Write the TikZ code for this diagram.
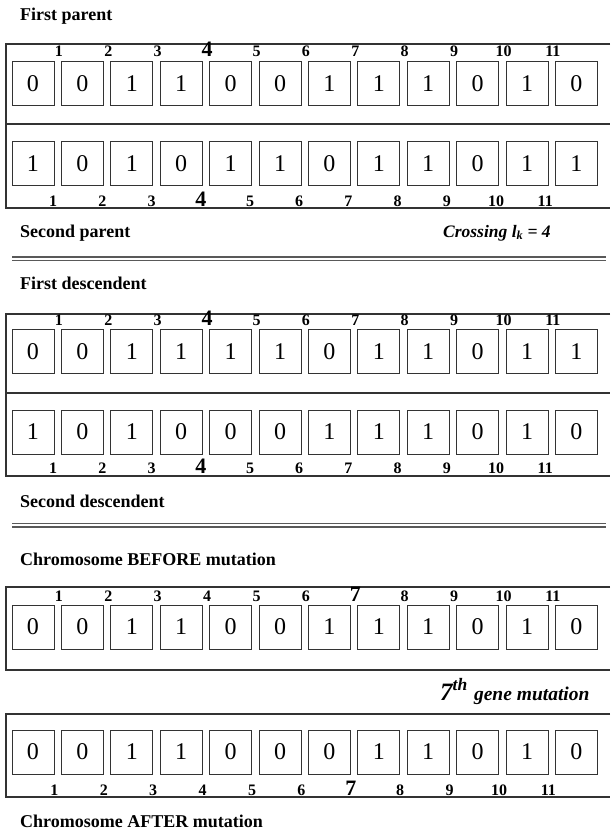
\documentclass[tikz,border=0pt]{standalone}
\usepackage{fontspec}
\setmainfont{Liberation Serif}
\begin{document}
\begin{tikzpicture}[x=1pt,y=-1pt]
\tikzset{
 gene/.style={draw=black!80, line width=1pt, minimum width=42pt, minimum height=44pt, inner sep=0pt, font=\fontsize{24}{24}\selectfont},
 idx/.style={font=\bfseries\fontsize{16}{16}\selectfont, anchor=base, inner sep=0pt},
 bigidx/.style={font=\bfseries\fontsize{22}{22}\selectfont, anchor=base, inner sep=0pt},
 frameline/.style={draw=black!80, line width=1.1pt},
 title/.style={font=\bfseries\fontsize{18}{18}\selectfont, anchor=base west, inner sep=0pt},
 dblline/.style={draw=black!65, line width=1.3pt},
 note/.style={font=\bfseries\itshape\fontsize{17.5}{17.5}\selectfont, anchor=base west, inner sep=0pt}
}
\useasboundingbox (0,0) rectangle (610,832);
% titles
\node[title] (tFP) at (20,21) {First parent};
\node[title] (tSP) at (20,237) {Second parent};
\node[title] (tFD) at (20,289) {First descendent};
\node[title] (tSD) at (20,507) {Second descendent};
\node[title] (tCB) at (20,565) {Chromosome BEFORE mutation};
\node[title] (tCA) at (20,827) {Chromosome AFTER mutation};
\node[note] (cross) at (443,237) {Crossing l\textsubscript{k} = 4};
\node[note] (mut) at (440,700) {\fontsize{25}{25}\selectfont 7\textsuperscript{th} \fontsize{19.5}{19.5}\selectfont gene mutation};
% double lines
\draw[dblline] (12,257) -- (606,257);
\draw[dblline] (12,260.5) -- (606,260.5);
\draw[dblline] (12,523.5) -- (606,523.5);
\draw[dblline] (12,527) -- (606,527);
% frames
\draw[frameline] (610,44) -- (6,44) -- (6,208) -- (610,208);
\draw[frameline] (6,124) -- (610,124);
\draw[frameline] (610,314) -- (6,314) -- (6,476) -- (610,476);
\draw[frameline] (6,393) -- (610,393);
\draw[frameline] (610,587) -- (6,587) -- (6,670) -- (610,670);
\draw[frameline] (610,714) -- (6,714) -- (6,797) -- (610,797);
% gene rows
\foreach \b [count=\i] in {0,0,1,1,0,0,1,1,1,0,1,0}
  \node[gene] (pa-\i) at ({33+49.4*(\i-1)},84) {\b};
\foreach \b [count=\i] in {1,0,1,0,1,1,0,1,1,0,1,1}
  \node[gene] (pb-\i) at ({33+49.4*(\i-1)},163.5) {\b};
\foreach \b [count=\i] in {0,0,1,1,1,1,0,1,1,0,1,1}
  \node[gene] (da-\i) at ({33+49.4*(\i-1)},351.5) {\b};
\foreach \b [count=\i] in {1,0,1,0,0,0,1,1,1,0,1,0}
  \node[gene] (db-\i) at ({33+49.4*(\i-1)},432) {\b};
\foreach \b [count=\i] in {0,0,1,1,0,0,1,1,1,0,1,0}
  \node[gene] (mb-\i) at ({33+49.4*(\i-1)},627) {\b};
\foreach \b [count=\i] in {0,0,1,1,0,0,0,1,1,0,1,0}
  \node[gene] (ma-\i) at ({33+49.4*(\i-1)},752) {\b};
% index labels
\foreach \i/\s in {1/idx,2/idx,3/idx,4/bigidx,5/idx,6/idx,7/idx,8/idx,9/idx,10/idx,11/idx}{
  \node[\s] (ipa-\i) at ({9.5+49.4*\i},57) {\i};
  \node[\s] (ipb-\i) at ({4+49.2*\i},206) {\i};
  \node[\s] (ida-\i) at ({9.5+49.4*\i},325) {\i};
  \node[\s] (idb-\i) at ({4+49.2*\i},473) {\i};
}
\foreach \i/\s in {1/idx,2/idx,3/idx,4/idx,5/idx,6/idx,7/bigidx,8/idx,9/idx,10/idx,11/idx}{
  \node[\s] (imb-\i) at ({9.5+49.4*\i},601) {\i};
  \node[\s] (ima-\i) at ({5+49.4*\i},795) {\i};
}
\end{tikzpicture}
\end{document}
